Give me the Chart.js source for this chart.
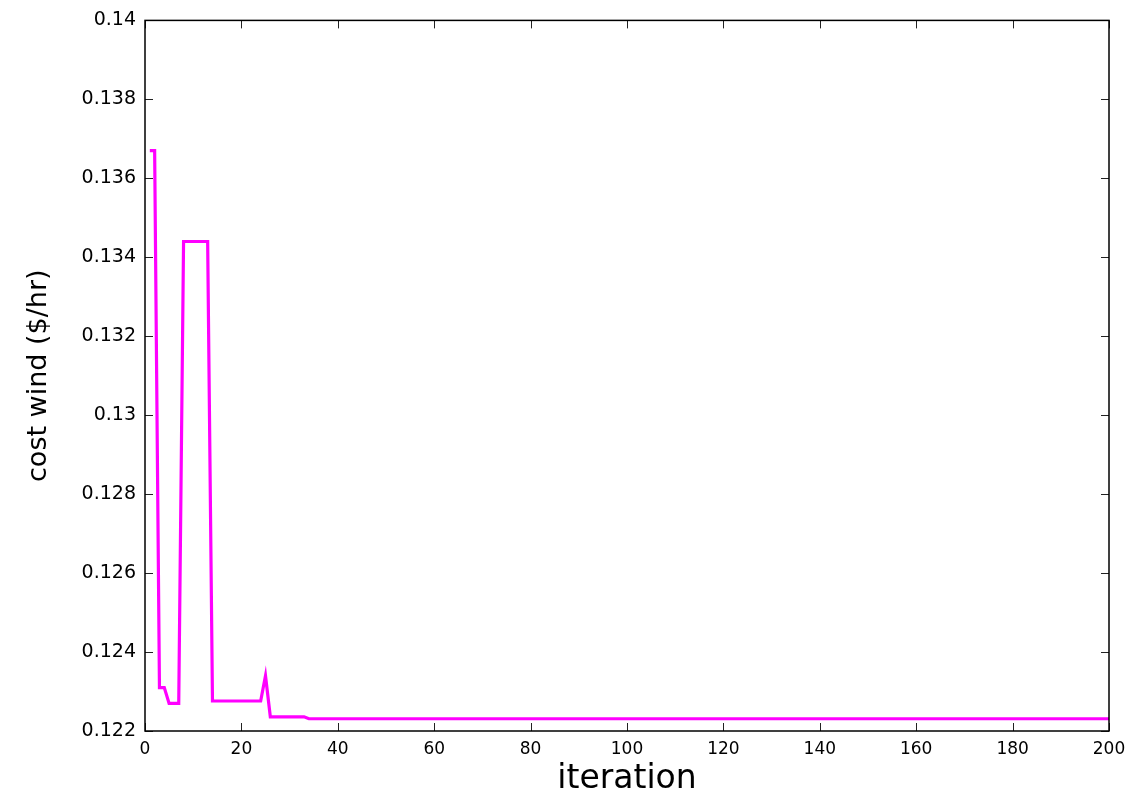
<!DOCTYPE html>
<html>
<head>
<meta charset="utf-8">
<script src="https://cdn.jsdelivr.net/npm/chart.js@4/dist/chart.umd.min.js"></script>
<style>
  html, body { margin: 0; padding: 0; background: #fff; }
  #wrap { width: 1137px; height: 796px; }
</style>
</head>
<body>
<div id="wrap"><canvas id="the-graph"></canvas></div>
<script>
// breakpoints of the convergence curve (iteration, cost)
var iterations = [1, 2, 3, 4, 5, 7, 8, 13, 14, 24, 25, 26, 33, 34, 200];
var costWind   = [0.1367, 0.1367, 0.1231, 0.1231, 0.1227, 0.1227, 0.1344, 0.1344,
                  0.12276, 0.12276, 0.1234, 0.12236, 0.12236, 0.12231, 0.12231];
var xTicks = [0, 20, 40, 60, 80, 100, 120, 140, 160, 180, 200];
var yTicks = [0.122, 0.124, 0.126, 0.128, 0.13, 0.132, 0.134, 0.136, 0.138, 0.14];

var points = iterations.map(function (it, i) {
  return { x: it, y: costWind[i] };
});

// box around the plot with short inward tick marks on every side
var boxTicks = {
  id: 'boxTicks',
  afterDraw: function (chart) {
    var ctx = chart.ctx, a = chart.chartArea, len = 8;
    var xs = chart.scales.x, ys = chart.scales.y;
    ctx.save();
    ctx.strokeStyle = '#222';
    ctx.lineWidth = 1;
    ctx.beginPath();
    xTicks.forEach(function (v) {
      var px = Math.round(xs.getPixelForValue(v)) + 0.5;
      ctx.moveTo(px, a.bottom); ctx.lineTo(px, a.bottom - len);
      ctx.moveTo(px, a.top); ctx.lineTo(px, a.top + len);
    });
    yTicks.forEach(function (v) {
      var py = Math.round(ys.getPixelForValue(v)) + 0.5;
      ctx.moveTo(a.left, py); ctx.lineTo(a.left + len, py);
      ctx.moveTo(a.right, py); ctx.lineTo(a.right - len, py);
    });
    ctx.stroke();
    ctx.strokeStyle = '#000';
    ctx.lineWidth = 1.5;
    ctx.strokeRect(a.left, a.top, a.right - a.left, a.bottom - a.top);
    ctx.restore();
  }
};

var chart = new Chart(document.getElementById('the-graph'), {
  type: 'line',
  data: {
    datasets: [{
      data: points,
      borderColor: '#ff00ff',
      borderWidth: 3.2,
      pointRadius: 0,
      tension: 0,
      fill: false
    }]
  },
  options: {
    responsive: true,
    maintainAspectRatio: false,
    animation: false,
    layout: { padding: { top: 18, right: 28, left: 0, bottom: 0 } },
    plugins: { legend: { display: false }, tooltip: { enabled: false } },
    scales: {
      x: {
        type: 'linear',
        min: 0, max: 200,
        afterBuildTicks: function (s) { s.ticks = xTicks.map(function (v) { return { value: v }; }); },
        afterFit: function (s) { s.height = 65; },
        grid: { display: false, drawTicks: false },
        border: { display: false },
        ticks: { color: '#000', font: { family: 'DejaVu Sans', size: 17 }, padding: 8, maxRotation: 0 },
        title: {
          display: true, text: 'iteration', color: '#000',
          font: { family: 'DejaVu Sans', size: 33, lineHeight: 1 },
          padding: 0
        }
      },
      y: {
        min: 0.122, max: 0.14,
        afterBuildTicks: function (s) { s.ticks = yTicks.map(function (v) { return { value: v }; }); },
        afterFit: function (s) { s.width = 145; },
        grid: { display: false, drawTicks: false },
        border: { display: false },
        ticks: {
          color: '#000', font: { family: 'DejaVu Sans', size: 19 }, padding: 9,
          callback: function (v) { return String(Number(v.toFixed(3))); }
        },
        title: {
          display: true, text: 'cost wind ($/hr)', color: '#000',
          font: { family: 'DejaVu Sans', size: 27, lineHeight: 1 },
          padding: { top: 25, bottom: 0 }
        }
      }
    }
  },
  plugins: [boxTicks]
});
</script>
</body>
</html>
